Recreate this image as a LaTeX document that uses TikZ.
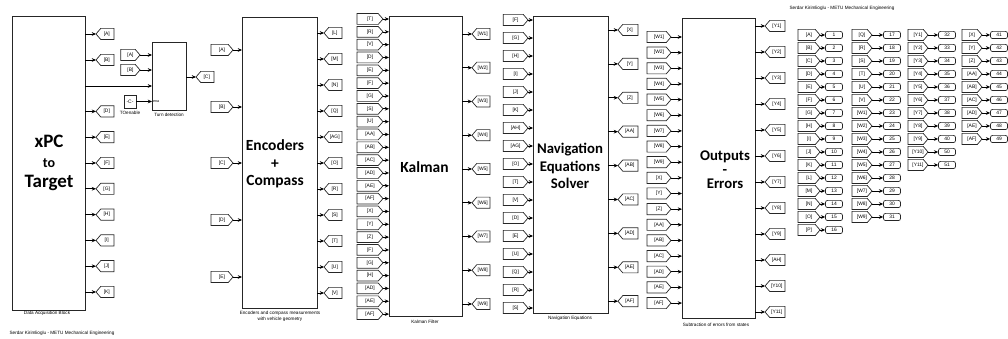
\documentclass[tikz,border=0pt]{standalone}
\usepackage{fontspec}
\setmainfont{Liberation Sans}
\newfontfamily\blockfont{Carlito}
\usetikzlibrary{arrows.meta}
\newcommand\tagfont{\fontsize{3.5}{4}\selectfont}
\newcommand\capfont{\fontsize{3.3}{4}\selectfont}
\tikzset{
  blockbox/.style={draw=black!85, line width=0.7pt, inner sep=0pt, outer sep=0pt},
  masktext/.style={font=\blockfont\bfseries\fontsize{10.5}{12.4}\selectfont, align=center, inner sep=0pt},
  caption/.style={font=\capfont, inner sep=0pt, align=center},
  tagline/.style={draw=black!85, line width=0.5pt},
  tagbase/.style={minimum height=0.28cm, inner sep=0.4pt, outer sep=0pt, font=\tagfont},
  gototag/.style={tagbase, minimum width=#1, anchor=west, xshift=0pt},
  gototag/.default=0.45cm,
  fromtag/.style={tagbase, minimum width=#1, anchor=east},
  fromtag/.default=0.5cm,
  outport/.style={draw=black!85, line width=0.5pt, rounded corners=1.5pt, minimum width=0.425cm, minimum height=0.18cm, inner sep=0pt, font=\tagfont},
  wire/.style={line width=0.45pt, -{Stealth[length=3pt,width=2.6pt]}}
}
\newcommand\gotooutline[1]{\draw[tagline] (#1.west) -- ([xshift=0.12cm]#1.north west) -- (#1.north east) -- (#1.south east) -- ([xshift=0.12cm]#1.south west) -- cycle;}
\newcommand\fromoutline[1]{\draw[tagline] (#1.north west) -- ([xshift=-0.12cm]#1.north east) -- (#1.east) -- ([xshift=-0.12cm]#1.south east) -- (#1.south west) -- cycle;}
\begin{document}
\begin{tikzpicture}[x=0.025cm, y=-0.025cm]
\useasboundingbox (0,0) rectangle (1008,339);

\node[caption] (signtop) at (842,8) {Serdar Kirimlioglu - METU Mechanical Engineering};
\node[caption] (signbottom) at (62,333) {Serdar Kirimlioglu - METU Mechanical Engineering};

% data acquisition
\node[blockbox, minimum width=1.8cm, minimum height=7.325cm] (xpc) at (49,163.5) {};
\node[masktext, font=\blockfont\bfseries\fontsize{13.5}{14}\selectfont] (xpctext) at (49,163) {xPC\\{\fontsize{10}{14}\selectfont to}\\Target};
\node[caption] (xpccap) at (47,313) {Data Acquisition Block};
\foreach \lab/\yy in {A/34, B/60, D/111.4, E/137.2, F/163, G/188.8, H/214.6, I/240.4, J/266.2, K/292}{
  \node[gototag] (xo\lab) at (96,\yy) {\hspace{2.5pt}[\lab]};
  \gotooutline{xo\lab}
  \draw[wire] (xpc.east |- xo\lab) -- (xo\lab.west);
}

% turn detection
\node[blockbox, minimum width=0.85cm, minimum height=1.675cm] (turn) at (169,76.5) {};
\node[caption] (turncap) at (169,115) {Turn detection};
\node[fromtag=0.48cm] (tdA) at (140,55) {[A]\hspace{2.5pt}};
\node[fromtag=0.48cm] (tdB) at (140,70) {[B]\hspace{2.5pt}};
\fromoutline{tdA}
\fromoutline{tdB}
\draw[wire] (tdA.east) -- (turn.west |- tdA);
\draw[wire] (tdB.east) -- (turn.west |- tdB);
\coordinate (xpcC) at (xpc.east |- 0,86);
\draw[wire] (xpcC) -- (turn.west |- xpcC);
\node[blockbox, line width=0.5pt, minimum width=0.3cm, minimum height=0.325cm, font=\tagfont] (toen) at (130,101.5) {-C-};
\node[caption] (toencap) at (130,113) {TOenable};
\draw[wire] (toen.east) -- (turn.west |- toen);
\node[caption, anchor=west, font=\fontsize{2.6}{3}\selectfont] (enport) at ([xshift=0.6pt]turn.west |- toen) {ena};
\node[gototag] (goC) at (196,77) {\hspace{2.5pt}[C]};
\gotooutline{goC}
\draw[wire] (turn.east |- goC) -- (goC.west);

% encoders
\node[blockbox, minimum width=1.875cm, minimum height=7.25cm] (enc) at (279.5,163) {};
\node[masktext, font=\blockfont\bfseries\fontsize{11}{12.4}\selectfont] (enctext) at (275,164) {Encoders\\+\\Compass};
\node[caption] (enccap) at (280,316.5) {Encoders and compass measurements\\with vehicle geometry};
\foreach \lab/\yy in {A/50, B/107, C/163, D/220, E/277}{
  \node[fromtag=0.55cm] (ei\lab) at (233,\yy) {[\lab]\hspace{2.5pt}};
  \fromoutline{ei\lab}
  \draw[wire] (ei\lab.east) -- (enc.west |- ei\lab);
}
\foreach \lab [count=\k from 0] in {L,M,N,Q,AG,O,R,S,T,U,V}{
  \node[gototag] (eo\k) at (324,33+26*\k) {\hspace{2.5pt}[\lab]};
  \gotooutline{eo\k}
  \draw[wire] (enc.east |- eo\k) -- (eo\k.west);
}

% kalman
\node[blockbox, minimum width=1.825cm, minimum height=7.475cm] (kal) at (425.5,166.5) {};
\node[masktext, font=\blockfont\bfseries\fontsize{11}{12.4}\selectfont] (kaltext) at (424.5,167) {Kalman};
\node[caption] (kalcap) at (425,322) {Kalman Filter};
\foreach \lab [count=\k from 0] in {T,R,V,D,E,F,G,S,U,AA,AB,AC,AD,AE,AF,X,Y,Z,F,G,H,AD,AE,AF}{
  \node[fromtag=0.65cm, minimum height=0.27cm] (ki\k) at (383,19+12.83*\k) {[\lab]\hspace{3pt}};
  \fromoutline{ki\k}
  \draw[wire] (ki\k.east) -- (kal.west |- ki\k);
}
\foreach \k in {1,...,9}{
  \node[gototag] (ko\k) at (472,34+33.75*\k-33.75) {\hspace{2.5pt}[W\k]};
  \gotooutline{ko\k}
  \draw[wire] (kal.east |- ko\k) -- (ko\k.west);
}

% navigation
\node[blockbox, minimum width=1.875cm, minimum height=7.4cm] (nav) at (570.5,165) {};
\node[masktext] (navtext) at (570,166) {Navigation\\Equations\\Solver};
\node[caption] (navcap) at (570,318) {Navigation Equations};
\foreach \lab [count=\k from 0] in {F,G,H,I,J,K,AH,AG,O,T,V,D,E,U,Q,R,S}{
  \node[fromtag=0.62cm] (ni\k) at (528,20+18*\k) {[\lab]\hspace{3pt}};
  \fromoutline{ni\k}
  \draw[wire] (ni\k.east) -- (nav.west |- ni\k);
}
\foreach \lab [count=\k from 0] in {X,Y,Z,AA,AB,AC,AD,AE,AF}{
  \node[gototag=0.5cm] (no\k) at (618,30+33.9*\k) {\hspace{2.5pt}[\lab]};
  \gotooutline{no\k}
  \draw[wire] (nav.east |- no\k) -- (no\k.west);
}

% outputs
\node[blockbox, minimum width=1.825cm, minimum height=7.475cm] (outb) at (718.5,168.5) {};
\node[masktext, font=\blockfont\bfseries\fontsize{10.5}{10}\selectfont] (outtext) at (725,170) {Outputs\\-\\Errors};
\node[caption] (outcap) at (716,325) {Subtraction of errors from states};
\foreach \lab [count=\k from 0] in {W1,W2,W3,W4,W5,W6,W7,W8,W9,X,Y,Z,AA,AB,AC,AD,AE,AF}{
  \node[fromtag=0.6cm] (oi\k) at (671,37+15.65*\k) {[\lab]\hspace{3pt}};
  \fromoutline{oi\k}
  \draw[wire] (oi\k.east) -- (outb.west |- oi\k);
}
\foreach \lab [count=\k from 0] in {Y1,Y2,Y3,Y4,Y5,Y6,Y7,Y8,Y9,AH,Y10,Y11}{
  \node[gototag=0.5cm] (oo\k) at (765,26+26*\k) {\hspace{2.5pt}[\lab]};
  \gotooutline{oo\k}
  \draw[wire] (outb.east |- oo\k) -- (oo\k.west);
}

% scopes
\foreach \lab/\num [count=\k from 0] in {A/1,B/2,C/3,D/4,E/5,F/6,G/7,H/8,I/9,J/10,K/11,L/12,M/13,N/14,O/15,P/16}{
  \node[fromtag=0.55cm] (sa\k) at (820,35+13*\k) {[\lab]\hspace{2.5pt}};
  \fromoutline{sa\k}
  \node[outport] (pa\k) at (834,35+13*\k) {\num};
  \draw[wire] (sa\k.east) -- (pa\k.west);
}
\foreach \lab/\num [count=\k from 0] in {Q/17,R/18,S/19,T/20,U/21,V/22,W1/23,W2/24,W3/25,W4/26,W5/27,W6/28,W7/29,W8/30,W9/31}{
  \node[fromtag=0.5cm] (sb\k) at (872,35+13*\k) {[\lab]\hspace{2.5pt}};
  \fromoutline{sb\k}
  \node[outport] (pb\k) at (892,35+13*\k) {\num};
  \draw[wire] (sb\k.east) -- (pb\k.west);
}
\foreach \lab/\num [count=\k from 0] in {Y1/32,Y2/33,Y3/34,Y4/35,Y5/36,Y6/37,Y7/38,Y8/39,Y9/40,Y10/50,Y11/51}{
  \node[fromtag=0.5cm] (sc\k) at (928,35+13*\k) {[\lab]\hspace{2.5pt}};
  \fromoutline{sc\k}
  \node[outport] (pc\k) at (947,35+13*\k) {\num};
  \draw[wire] (sc\k.east) -- (pc\k.west);
}
\foreach \lab/\num [count=\k from 0] in {X/41,Y/42,Z/43,AA/44,AB/45,AC/46,AD/47,AE/48,AF/49}{
  \node[fromtag=0.5cm] (sd\k) at (982,35+13*\k) {[\lab]\hspace{2.5pt}};
  \fromoutline{sd\k}
  \node[outport] (pd\k) at (999,35+13*\k) {\num};
  \draw[wire] (sd\k.east) -- (pd\k.west);
}
\end{tikzpicture}
\end{document}
